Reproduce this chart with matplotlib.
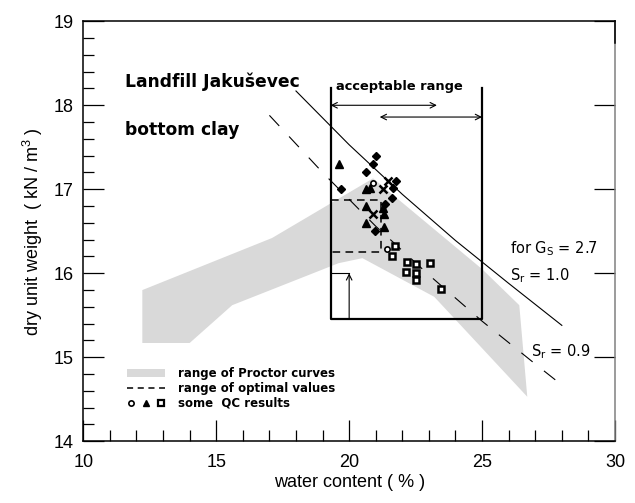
import matplotlib
matplotlib.use("Agg")
import matplotlib.pyplot as plt
from matplotlib.patches import Patch
from matplotlib.lines import Line2D
from matplotlib.legend_handler import HandlerTuple

plt.rcParams['mathtext.default'] = 'regular'

# ---------------- data ----------------
# range of Proctor curves (outline of the shaded band)
proctor_w = [12.22, 17.1, 20.9, 25.0, 26.4, 26.7, 24.2, 23.2, 20.5, 19.6, 15.6, 14.0, 12.22]
proctor_g = [15.80, 16.42, 17.13, 16.05, 15.62, 14.53, 15.38, 15.72, 16.18, 16.12, 15.62, 15.17, 15.17]

# saturation lines (Gs = 2.7)
sr10_w = [18, 20, 22, 24, 26, 28]
sr10_g = [18.17, 17.53, 16.94, 16.39, 15.88, 15.38]
sr09_w = [17, 19, 21, 23, 25, 27, 28]
sr09_g = [17.88, 17.20, 16.56, 15.98, 15.43, 14.92, 14.67]

# acceptable range box
box_w = [19.3, 19.3, 25.0, 25.0]
box_g = [18.2, 15.45, 15.45, 18.2]

# range of optimal values (dashed)
opt_w = [19.3, 21.2, 21.2, 19.3]
opt_g = [16.87, 16.87, 16.25, 16.25]

# arrows
arrow1_w = [19.3, 23.3]
arrow1_g = 18.0
arrow2_w = [21.15, 25.0]
arrow2_g = 17.86
up_w = 20.0
up_g = [15.45, 16.0]

# QC results
diam_w = [21.01, 20.90, 20.63, 19.68, 21.76, 21.63, 20.97, 21.65, 21.35]
diam_g = [17.40, 17.30, 17.20, 17.00, 17.10, 16.90, 16.50, 17.01, 16.82]
tri_w = [19.60, 20.63, 20.78, 20.65, 20.63, 21.30, 21.31, 21.28]
tri_g = [17.30, 17.00, 17.01, 16.80, 16.60, 16.55, 16.71, 16.78]
x_w = [21.47, 21.28, 20.88]
x_g = [17.10, 17.00, 16.71]
circ_w = [20.88, 21.44]
circ_g = [17.07, 16.29]
sq_w = [21.72, 21.63, 22.16, 22.50, 23.03, 22.12, 22.51, 22.51, 23.45]
sq_g = [16.33, 16.20, 16.14, 16.11, 16.12, 16.01, 16.00, 15.92, 15.81]

# ---------------- figure ----------------
fig = plt.figure(figsize=(6.35, 5.03), dpi=100)
ax = fig.add_axes([0.1312, 0.1227, 0.8373, 0.835])
ax.set_xlim(10, 30)
ax.set_ylim(14, 19)

ax.fill(proctor_w, proctor_g, color='#d9d9d9', lw=0, zorder=1)

ax.plot(sr10_w, sr10_g, color='black', lw=0.8, zorder=2)
ax.plot(sr09_w, sr09_g, color='black', lw=0.8, dashes=(13, 13), zorder=2)

ax.plot(box_w, box_g, color='black', lw=1.6, zorder=3)
ax.plot(opt_w, opt_g, color='black', lw=1.1, dashes=(5, 3.5), zorder=3)
ax.plot([box_w[0], up_w], [up_g[1], up_g[1]], color='black', lw=0.8, zorder=3)

akw = dict(arrowstyle='<->', color='black', lw=0.8, mutation_scale=10, shrinkA=0, shrinkB=0)
ax.annotate('', xy=(arrow1_w[1], arrow1_g), xytext=(arrow1_w[0], arrow1_g), arrowprops=akw)
ax.annotate('', xy=(arrow2_w[1], arrow2_g), xytext=(arrow2_w[0], arrow2_g), arrowprops=akw)
ax.annotate('', xy=(up_w, up_g[1]), xytext=(up_w, up_g[0]),
            arrowprops=dict(arrowstyle='->', color='black', lw=0.8, mutation_scale=10, shrinkA=0, shrinkB=0))

ax.plot(diam_w, diam_g, ls='none', marker='D', ms=4.5, color='black', zorder=4)
ax.plot(tri_w, tri_g, ls='none', marker='^', ms=6, color='black', zorder=4)
ax.plot(x_w, x_g, ls='none', marker='x', ms=5.5, mew=1.8, color='black', zorder=4)
ax.plot(circ_w, circ_g, ls='none', marker='o', ms=3.8, mfc='white', mec='black', mew=1.2, zorder=4)
ax.plot(sq_w, sq_g, ls='none', marker='s', ms=5, mfc='white', mec='black', mew=1.8, zorder=4)

# texts
bold = dict(fontweight='bold', family='DejaVu Sans')
ax.text(11.57, 18.28, 'Landfill Jakuševec', fontsize=12.3, va='center', ha='left', **bold)
ax.text(11.57, 17.71, 'bottom clay', fontsize=12.3, va='center', ha='left', **bold)
ax.text(19.5, 18.22, 'acceptable range', fontsize=9.4, va='center', ha='left', **bold)
ax.text(26.04, 16.29, 'for G$_S$ = 2.7', fontsize=10.5, va='center', ha='left', family='DejaVu Sans')
ax.text(26.04, 15.97, 'S$_r$ = 1.0', fontsize=10.5, va='center', ha='left', family='DejaVu Sans')
ax.text(26.83, 15.07, 'S$_r$ = 0.9', fontsize=10.5, va='center', ha='left', family='DejaVu Sans')

# legend
h1 = Patch(facecolor='#d9d9d9', edgecolor='none')
h2 = Line2D([], [], color='black', lw=1.1, dashes=(4, 3))
hc = Line2D([], [], ls='none', marker='o', ms=3.8, mfc='white', mec='black', mew=1.2)
ht = Line2D([], [], ls='none', marker='^', ms=5, color='black')
hs = Line2D([], [], ls='none', marker='s', ms=4.5, mfc='white', mec='black', mew=1.6)
leg = ax.legend([h1, h2, (hc, ht, hs)],
                ['range of Proctor curves', 'range of optimal values', 'some  QC results'],
                handler_map={tuple: HandlerTuple(ndivide=None, pad=0.6)},
                loc='lower left', bbox_to_anchor=(0.082, 0.075), frameon=False,
                prop={'weight': 'bold', 'size': 8.5, 'family': 'DejaVu Sans'},
                handlelength=3.2, handletextpad=1.1, labelspacing=0.15, borderpad=0, borderaxespad=0)

# axes styling
for s in ['left', 'bottom', 'top']:
    ax.spines[s].set_linewidth(1.1)
ax.spines['right'].set_color('#808080')
ax.spines['right'].set_linewidth(1.1)
ax.plot([1, 1], [0.948, 1.0], transform=ax.transAxes, color='black', lw=1.1, clip_on=False, zorder=5)

ax.set_xticks([10, 15, 20, 25, 30])
ax.set_xticks(range(10, 31), minor=True)
ax.set_yticks([14, 15, 16, 17, 18, 19])
ax.set_yticks([14 + 0.2 * i for i in range(26)], minor=True)
ax.tick_params(which='major', direction='in', length=15, width=0.9, top=False, right=True,
               labelsize=13)
ax.tick_params(which='minor', direction='in', length=8, width=0.9, top=False, right=False)
ax.tick_params(axis='x', which='major', pad=9)
ax.tick_params(axis='y', which='major', pad=7)
for lab in ax.get_xticklabels() + ax.get_yticklabels():
    lab.set_family('Liberation Sans')

ax.set_xlabel('water content ( % )', fontsize=13, family='Liberation Sans', labelpad=2)
ax.set_ylabel('dry unit weight  ( kN / m$^3$ )', fontsize=13, family='Liberation Sans', labelpad=6)

fig.savefig('out.png', dpi=100)
